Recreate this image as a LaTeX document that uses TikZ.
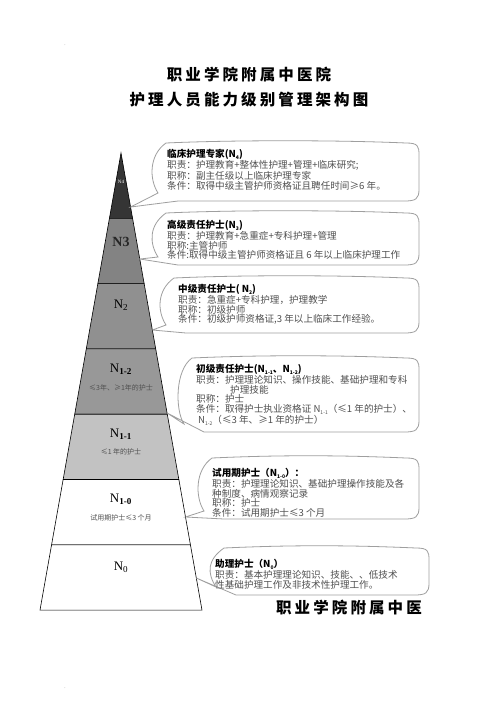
\documentclass[tikz,border=0pt]{standalone}
\usepackage{fontspec}
\setmainfont{Liberation Serif}
\newfontfamily\cjk{Noto Sans CJK SC}
\newfontfamily\cjktitle[LetterSpace=20]{Noto Sans CJK SC}
\usetikzlibrary{calc}

\definecolor{lvfour}{HTML}{353535}
\definecolor{lvthree}{HTML}{838383}
\definecolor{lvtwo}{HTML}{909090}
\definecolor{lvonetwo}{HTML}{989898}
\definecolor{lvoneone}{HTML}{C2C2C2}
\definecolor{bodygray}{HTML}{505050}

\newcommand\lvsub[1]{\raisebox{-0.4ex}{\fontsize{5}{5}\selectfont #1}}
% speech bubble: left, top, right, bottom, tip
\newcommand\bubble[5]{%
  \draw[bubbleline] (#5) -- (#1+6,#4-8)
    .. controls (#1-3,#4-22) and (#1-3,#2+12) .. (#1+14,#2)
    .. controls (#1+80,#2-3) and (#3-80,#2-3) .. (#3-12,#2)
    .. controls (#3,#2) and (#3+1,#2+3) .. (#3+1,#2+12)
    -- (#3+1,#4-12)
    .. controls (#3+1,#4-2) and (#3-2,#4) .. (#3-14,#4)
    -- (#1+26,#4) -- cycle;}

\tikzset{
  layer/.style={draw=black, line width=0.6pt},
  bubbleline/.style={draw=gray!75, line width=0.8pt},
  bubbletext/.style={anchor=north west, inner sep=0pt, align=left, text=bodygray,
    font=\cjk\fontsize{9.6}{9.6}\selectfont},
  lvname/.style={inner sep=0pt, font=\fontsize{13}{13}\selectfont},
  lvnote/.style={inner sep=0pt, text=bodygray, font=\cjk\fontsize{7}{7}\selectfont},
  titletext/.style={inner sep=0pt, font=\cjktitle\bfseries\fontsize{15.5}{15.5}\selectfont}
}

\begin{document}
\begin{tikzpicture}[x=1pt, y=-1pt]
\useasboundingbox[fill=white] (0,0) rectangle (496,702);

\node[text=gray] (dotA) at (65,45) {\tiny .};
\node[text=gray] (dotB) at (65,688) {\tiny .};

% title
\node[titletext] (title1) at (249,75) {职业学院附属中医院};
\node[titletext] (title2) at (249,100) {护理人员能力级别管理架构图};

% pyramid
\foreach \i/\tone in {0/lvfour,1/lvthree,2/lvtwo,3/lvonetwo,4/lvoneone,5/white,6/white}{
  \pgfmathsetmacro\ya{153+65.3*\i}
  \pgfmathsetmacro\yb{153+65.3*(\i+1)}
  \pgfmathsetmacro\wa{0.1772*65.3*\i}
  \pgfmathsetmacro\wb{0.1772*65.3*(\i+1)}
  \filldraw[layer, fill=\tone] (121-\wa,\ya) -- (121+\wa,\ya) -- (121+\wb,\yb) -- (121-\wb,\yb) -- cycle;
}

\node[inner sep=0pt, text=white, font=\fontsize{5}{5}\selectfont] (lvN4) at (121,182) {N4};
\node[lvname, font=\bfseries\fontsize{14}{14}\selectfont, text=black!85] (lvN3) at (121,242) {N3};
\node[lvname] (lvN2) at (121,305) {N\textsubscript{2}};
\node[lvname] (lvN12) at (121,369) {N\textsubscript{\textbf{1-2}}};
\node[lvnote] (noteN12) at (121,388) {≤3年、≥1年的护士};
\node[lvname] (lvN11) at (121,434) {N\textsubscript{\textbf{1-1}}};
\node[lvnote] (noteN11) at (121,452) {≤1 年的护士};
\node[lvname] (lvN10) at (121,499) {N\textsubscript{\textbf{1-0}}};
\node[lvnote] (noteN10) at (121,518) {试用期护士≤3 个月};
\node[lvname] (lvN0) at (121,567) {N\textsubscript{0}};

% tips on the pyramid edge
\coordinate (tip1) at (130.6,207);
\coordinate (tip2) at (139.8,259);
\coordinate (tip3) at (152.4,330);
\coordinate (tip4) at (167.1,413);
\coordinate (tip5) at (185.5,517);
\coordinate (tip6) at (196.3,578);

% bubbles
\bubble{152}{143}{418}{201}{tip1}
\bubble{152}{213}{418}{265}{tip2}
\bubble{160}{278}{418}{333}{tip3}
\bubble{178}{358}{418}{432}{tip4}
\bubble{198}{458}{418}{519}{tip5}
\bubble{210}{548}{428}{595}{tip6}

\node[bubbletext] (expert) at (167,149) {{\color{black}\bfseries 临床护理专家(N\lvsub{4})}\\
  职责：护理教育+整体性护理+管理+临床研究;\\
  职称：副主任级以上临床护理专家\\
  条件：取得中级主管护师资格证且聘任时间≥6 年。};
\node[bubbletext] (senior) at (167,220) {{\color{black}\bfseries 高级责任护士(N\lvsub{3})}\\
  职责：护理教育+急重症+专科护理+管理\\
  职称:主管护师\\
  条件:取得中级主管护师资格证且 6 年以上临床护理工作};
\node[bubbletext] (middle) at (178,284) {{\color{black}\bfseries 中级责任护士( N\lvsub{2})}\\
  职责：急重症+专科护理，护理教学\\
  职称：初级护师\\
  条件：初级护师资格证,3 年以上临床工作经验。};
\node[bubbletext] (junior) at (196,364) {{\color{black}\bfseries 初级责任护士(N\lvsub{1-1}、N\lvsub{1-2})}\\
  职责：护理理论知识、操作技能、基础护理和专科\\
  \hspace*{34pt}护理技能\\
  职称：护士\\
  条件：取得护士执业资格证 N\lvsub{1-1}（≤1 年的护士）、\\
  \hspace*{2pt}N\lvsub{1-2}（≤3 年、≥1 年的护士）};
\node[bubbletext] (trial) at (212,468) {{\color{black}\bfseries 试用期护士（N\lvsub{1-0}）：}\\
  职责：护理理论知识、基础护理操作技能及各\\
  种制度、病情观察记录\\
  职称：护士\\
  条件：试用期护士≤3 个月};
\node[bubbletext] (assist) at (215,559) {{\color{black}\bfseries 助理护士（N\lvsub{0}）}\\
  职责：基本护理理论知识、技能、、低技术\\
  性基础护理工作及非技术性护理工作。};

\node[titletext] (footer) at (349,608) {职业学院附属中医};
\end{tikzpicture}
\end{document}
